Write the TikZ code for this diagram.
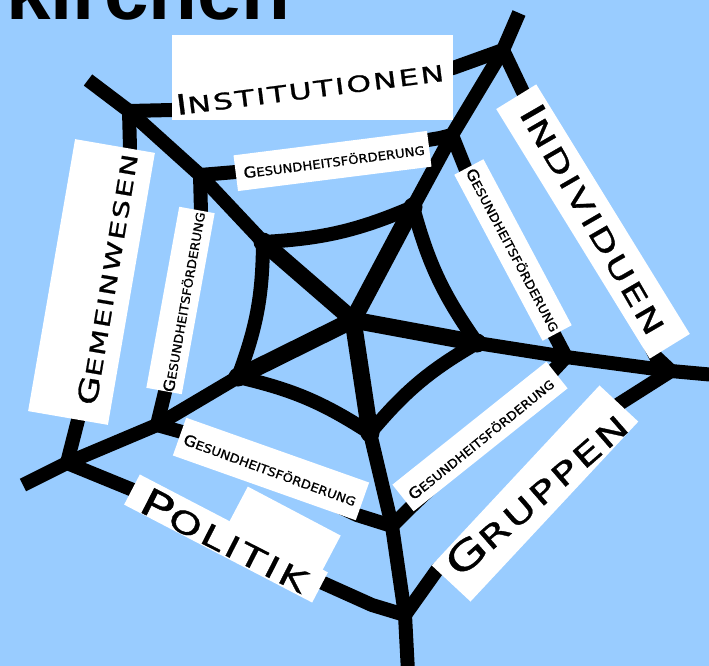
\documentclass[tikz,border=0pt]{standalone}
\usepackage{fontspec}
\usepackage{graphicx}
\newfontfamily\titlefont{Liberation Sans}
\newfontfamily\labelfont[FakeStretch=1.1,FakeBold=1]{DejaVu Sans}
\newfontfamily\widelabelfont[FakeStretch=1.4,LetterSpace=10,FakeBold=1]{DejaVu Sans}
\newcommand{\smallcapsword}[2]{#1\scalebox{0.8}{#2}}
\definecolor{skyblue}{HTML}{99CCFF}

\begin{document}
\begin{tikzpicture}[
    x=1pt, y=-1pt,
    strand/.style={line width=14pt, line join=round},
    hubstrand/.style={line width=17pt, line join=round},
    innerstrand/.style={line width=14pt, line join=round},
    knot/.style={circle, fill=black, inner sep=0pt, minimum size=19pt},
    labelbox/.style={fill=white, inner sep=0pt, outer sep=0pt},
    bigtext/.style={font=\widelabelfont\fontsize{#1}{#1}\selectfont, inner sep=0pt},
    smalltext/.style={font=\labelfont\fontsize{15}{15}\selectfont, inner sep=0pt},
    titletext/.style={font=\titlefont\bfseries\fontsize{80}{80}\selectfont, inner sep=0pt}
]

% Background
\useasboundingbox (0,0) rectangle (709,666);
\fill[skyblue] (0,0) rectangle (709,666);
\clip (0,0) rectangle (709,666);

% Web points
\coordinate (c) at (353,320);
\coordinate (i1) at (413,207);
\coordinate (i2) at (263,242);
\coordinate (i3) at (238,377);
\coordinate (i4) at (370,433);
\coordinate (i5) at (477,343);
\coordinate (m1) at (452,135);
\coordinate (m2) at (200,175);
\coordinate (m3) at (157,425);
\coordinate (m4) at (392,526);
\coordinate (m5) at (566,357);
\coordinate (o1) at (503,50);
\coordinate (o2) at (129,111);
\coordinate (o3) at (67,463);
\coordinate (o4) at (405,615);
\coordinate (o5) at (671,371);
\coordinate (t1) at (519,13);
\coordinate (t2) at (88,80);
\coordinate (t3) at (23,485);
\coordinate (t4) at (408,672);
\coordinate (t5) at (715,375);

% Spokes
\foreach \k in {1,...,5} {
    \draw[strand] (c) -- (i\k) -- (m\k) -- (o\k) -- (t\k);
    \draw[hubstrand] (c) -- (i\k);
}

% Outer ring
\draw[strand] (o2) -- (172,110) -- (453,68) -- (o1) -- (522,90) -- (656,357)
    -- (o5) -- (619,404) -- (437,570) -- (o4) -- (372,605) -- (323,583)
    -- (133,490) -- (o3) -- (78,420) -- (130,148) -- cycle;

% Middle ring
\draw[strand] (m2) -- (201,212) -- (165,392) -- (m3) -- (182,432) -- (357,515)
    -- (m4) -- (410,508) -- (552,372) -- (m5) -- (556,338) -- (466,170)
    -- (m1) -- (440,138) -- (236,172) -- cycle;

% Inner ring
\draw[innerstrand] (i1) to[bend left=10] (i2) to[bend left=10] (i3)
    to[bend left=10] (i4) to[bend left=10] (i5) to[bend left=10] (i1);
\foreach \k in {1,...,5}
    \node[knot] (knot\k) at (i\k) {};

% Title
\node[titletext, anchor=base east] (title) at (291,20) {kirchen};

% Outer labels
\node[labelbox, anchor=north west, minimum width=281pt, minimum height=85pt] (instbox) at (172,35) {};
\node[bigtext=28, rotate=7.3, anchor=base] (inst) at (311,98) {\smallcapsword{I}{NSTITUTIONEN}};

\node[labelbox, rotate=80.2, minimum width=276pt, minimum height=81pt] (gembox) at (91.5,282) {};
\node[bigtext=27, rotate=80.5, anchor=base] (gem) at (117,281) {\smallcapsword{G}{EMEINWESEN}};

\node[labelbox, rotate=-58.4, minimum width=293pt, minimum height=47pt] (indbox) at (593,221.5) {};
\node[bigtext=35, rotate=-60] (ind) at (594,219) {\smallcapsword{I}{NDIVIDUEN}};

\node[labelbox, rotate=47, minimum width=246pt, minimum height=53pt] (grubox) at (535,493.5) {};
\node[bigtext=38, rotate=41] (gru) at (536,494) {\smallcapsword{G}{RUPPEN}};

\node[labelbox, rotate=-27.8, minimum width=105pt, minimum height=45pt] (polpatch) at (283.75,531) {};
\node[labelbox, rotate=-27.5, minimum width=212pt, minimum height=34pt] (polbox) at (226,538.5) {};
\node[bigtext=38, rotate=-27] (pol) at (225,540) {\smallcapsword{P}{OLITIK}};

% Inner labels
\node[labelbox, rotate=7.2, minimum width=195pt, minimum height=36pt] (topbox) at (332.5,161) {};
\node[smalltext, rotate=7.5] (toplbl) at (334,161) {\smallcapsword{G}{ESUNDHEITSFÖRDERUNG}};

\node[labelbox, rotate=79.7, minimum width=184pt, minimum height=36pt] (leftbox) at (180.5,300.5) {};
\node[smalltext, rotate=80] (leftlbl) at (184,302) {\smallcapsword{G}{ESUNDHEITSFÖRDERUNG}};

\node[labelbox, rotate=-62, minimum width=188pt, minimum height=33pt] (rightbox) at (513,250) {};
\node[smalltext, rotate=-62] (rightlbl) at (513,250) {\smallcapsword{G}{ESUNDHEITSFÖRDERUNG}};

\node[labelbox, rotate=-19.5, minimum width=194pt, minimum height=40pt] (blbox) at (271,469) {};
\node[smalltext, rotate=-20] (bllbl) at (270,470) {\smallcapsword{G}{ESUNDHEITSFÖRDERUNG}};

\node[labelbox, rotate=38.6, minimum width=197pt, minimum height=34pt] (brbox) at (480,436.5) {};
\node[smalltext, rotate=39] (brlbl) at (481,439) {\smallcapsword{G}{ESUNDHEITSFÖRDERUNG}};

\end{tikzpicture}
\end{document}
